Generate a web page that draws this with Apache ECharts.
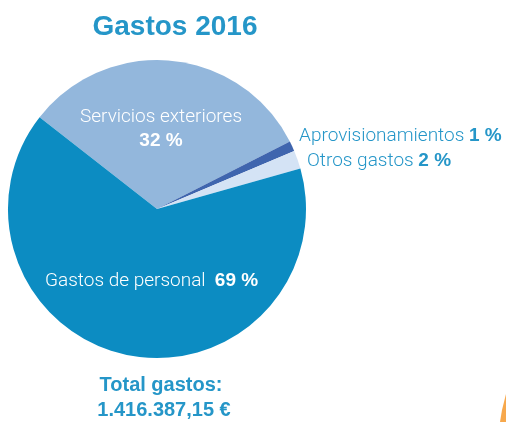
<!DOCTYPE html>
<html>
<head>
<meta charset="utf-8">
<script src="https://cdn.jsdelivr.net/npm/echarts@6/dist/echarts.min.js"></script>
<style>
  html, body { margin: 0; padding: 0; background: #fff; }
  #main { width: 506px; height: 422px; }
</style>
</head>
<body>
<div id="main"></div>
<script>
// datos del gráfico (porción medida en la imagen, etiqueta tal como aparece)
var names = ['Servicios exteriores', 'Aprovisionamientos', 'Otros gastos', 'Gastos de personal'];
var shares = [32, 1.1, 2, 65];
var pctLabels = ['32 %', '1 %', '2 %', '69 %'];
var colors = ['#93b7dc', '#3f65ae', '#d4e3f5', '#0c8cc2'];

var blue = '#2596c8';
var light = 'Roboto, "Liberation Sans", sans-serif';
var bold = '"Liberation Sans", Arial, sans-serif';

// posición de cada etiqueta
var labelPos = [
    { x: 161, y: 129, align: 'center', verticalAlign: 'middle' },
    { x: 299, y: 136, align: 'left', verticalAlign: 'middle' },
    { x: 307, y: 161, align: 'left', verticalAlign: 'middle' },
    { x: 45, y: 281, align: 'left', verticalAlign: 'middle' }
];

var data = [];
for (var i = 0; i < names.length; i++) {
    data.push({
        name: names[i],
        value: shares[i],
        itemStyle: { color: colors[i] }
    });
}

var myChart = echarts.init(document.getElementById('main'));
var option = {
    animation: false,
    graphic: [
        {
            type: 'text',
            style: {
                x: 175, y: 27, text: 'Gastos 2016',
                textAlign: 'center', textVerticalAlign: 'middle',
                font: 'bold 28px ' + bold, fill: blue
            }
        },
        {
            type: 'text',
            style: {
                x: 161, y: 385, text: 'Total gastos:',
                textAlign: 'center', textVerticalAlign: 'middle',
                font: 'bold 20px ' + bold, fill: blue
            }
        },
        {
            type: 'text',
            style: {
                x: 164, y: 410, text: '1.416.387,15 €',
                textAlign: 'center', textVerticalAlign: 'middle',
                font: 'bold 20px ' + bold, fill: blue
            }
        },
        {
            type: 'polygon',
            shape: { points: [[506, 394], [506, 422], [500, 422], [502, 410]] },
            style: { fill: '#f7a84c' }
        }
    ],
    series: [
        {
            type: 'pie',
            center: [157, 209],
            radius: 149,
            startAngle: 142,
            clockwise: true,
            avoidLabelOverlap: false,
            itemStyle: { borderWidth: 0 },
            labelLine: { show: false },
            label: {
                show: true,
                position: 'inside',
                formatter: function (p) {
                    var i = p.dataIndex;
                    if (i === 0) return '{n|' + names[i] + '}\n{b|' + pctLabels[i] + '}';
                    if (i === 3) return '{n|' + names[i] + '  }{b|' + pctLabels[i] + '}';
                    return '{o|' + names[i] + ' }{ob|' + pctLabels[i] + '}';
                },
                rich: {
                    n: { color: '#fff', fontFamily: light, fontWeight: 300, fontSize: 19, lineHeight: 23 },
                    b: { color: '#fff', fontFamily: bold, fontWeight: 'bold', fontSize: 19, lineHeight: 23 },
                    o: { color: blue, fontFamily: light, fontWeight: 300, fontSize: 19, lineHeight: 23 },
                    ob: { color: blue, fontFamily: bold, fontWeight: 'bold', fontSize: 19, lineHeight: 23 }
                }
            },
            labelLayout: function (params) {
                return labelPos[params.dataIndex];
            },
            data: data
        }
    ]
};
myChart.setOption(option);
</script>
</body>
</html>
